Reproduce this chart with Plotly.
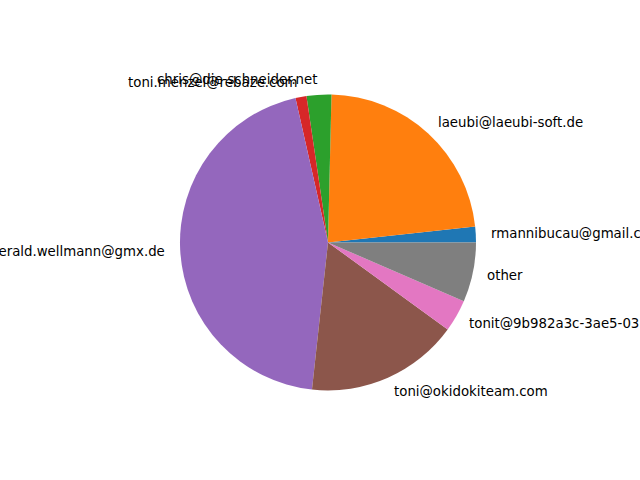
import math
import plotly.graph_objects as go

labels = [
    "rmannibucau@gmail.com",
    "laeubi@laeubi-soft.de",
    "chris@die-schneider.net",
    "toni.menzel@rebaze.com",
    "gerald.wellmann@gmx.de",
    "toni@okidokiteam.com",
    "tonit@9b982a3c-3ae5-0310-85c4-a52eb8d0d15b",
    "other",
]
values = [1.7, 22.9, 2.7, 1.2, 44.7, 16.7, 3.5, 6.5]
colors = ["#1f77b4", "#ff7f0e", "#2ca02c", "#d62728",
          "#9467bd", "#8c564b", "#e377c2", "#7f7f7f"]

W, H = 640, 480
cx, cy, r = 328.0, 242.4, 148.0  # pixels (from top-left)
total = sum(values)

fig = go.Figure(go.Pie(
    labels=labels, values=values, sort=False, direction="counterclockwise",
    rotation=90 - 360.0 * values[0] / total,
    marker=dict(colors=colors, line=dict(width=0)),
    textinfo="none", hoverinfo="label+percent", showlegend=False,
    domain=dict(x=[(cx - r) / W, (cx + r) / W],
                y=[(H - cy - r) / H, (H - cy + r) / H]),
))

start = 0.0
annotations = []
for lab, v in zip(labels, values):
    frac = v / total
    mid = (start + frac / 2) * 2 * math.pi
    start += frac
    px = cx + 1.1 * r * math.cos(mid)
    py = cy - 1.1 * r * math.sin(mid)
    right = math.cos(mid) > 0
    annotations.append(dict(
        x=px / W, y=1 - py / H, xref="paper", yref="paper",
        text=lab, showarrow=False, borderpad=0,
        xanchor="left" if right else "right", yanchor="middle",
        xshift=-1 if right else 1,
        font=dict(family="DejaVu Sans", size=13.33, color="#000000"),
    ))

fig.update_layout(
    width=W, height=H, margin=dict(l=0, r=0, t=0, b=0),
    paper_bgcolor="white", plot_bgcolor="white",
    annotations=annotations,
)
fig.write_html("out.html", config={"displayModeBar": False},
               post_script="document.body.style.margin='0';document.body.style.overflow='hidden';")
